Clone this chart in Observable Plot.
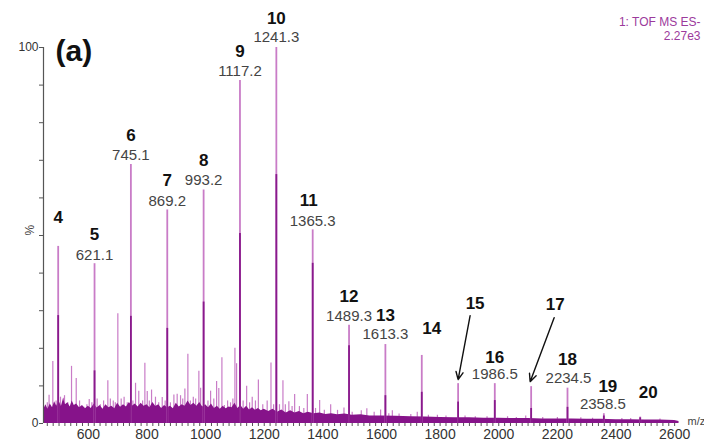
<!DOCTYPE html>
<html><head><meta charset="utf-8">
<script src="https://cdn.jsdelivr.net/npm/d3@7"></script>
<script src="https://cdn.jsdelivr.net/npm/@observablehq/plot@0.6"></script>
<style>
html,body{margin:0;padding:0;background:#fff;}
#chart{width:704px;height:443px;}
</style></head><body><div id="chart"></div>
<script>
// ---- data ----
const peakNumbers = ["4","5","6","7","8","9","10","11","12","13","14","15","16","17","18","19","20"];
const peakMz      = [497.1,621.1,745.1,869.2,993.2,1117.2,1241.3,1365.3,1489.3,1613.3,1737.4,1861.4,1986.5,2110.5,2234.5,2358.5,2482.5];
const peakMzText  = ["","621.1","745.1","869.2","993.2","1117.2","1241.3","1365.3","1489.3","1613.3","","","1986.5","","2234.5","2358.5",""];
const peakPct     = [47.1,42.5,68.9,56.8,62.1,91.2,100,51.5,26.1,21.0,18.1,10.6,10.6,9.8,9.4,2.6,1.7];
const peakDarkPct = [28.7,14.0,28.5,25.3,32.3,50.5,66.2,42.6,20.7,7.4,8.3,5.7,6.1,4.0,4.3,2.0,1.5];

const minorMz  = [460,466,478.8,490,505,515,518.7,530,542.6,558.6,570,584.6,595,603,612,630,641,652,666.5,675,685,692,700.6,712,722,732.7,752,761,772,785,792.8,800.9,808,815.6,829,840,852,862,880,891.8,903,914.5,922,929.3,939.5,948,958,966,977,983,1008,1017,1028,1037.5,1045,1055.6,1064,1075,1085,1093,1100,1105.7,1128,1140,1150,1159,1170,1180,1195,1210,1223,1232,1252,1263.8,1272,1284,1295,1303.7,1320,1335,1347,1375,1389,1405,1426.6,1450,1472,1500,1531,1550,1575,1597,1625,1637,1660,1700,1722,1760,1790.7,1820,1885,1920,1960,2030,2060,2092,2150,2200,2280,2320,2420,2450,2550];
const minorPct = [5.5,7.5,16.5,6.0,7.0,6.7,7.4,5.5,15.2,12.0,6.0,4.3,5.0,6.4,5.5,6.5,5.0,6.0,11.4,6.5,6.0,5.5,29.2,6.5,7.0,5.5,6.0,10.7,8.6,6.0,16.0,8.5,6.0,8.9,7.0,5.5,6.9,6.0,5.5,7.6,7.8,7.4,6.5,9.2,18.4,6.0,7.0,6.5,13.9,9.4,6.0,8.6,6.5,11.2,9.3,17.5,4.8,6.0,5.5,6.5,20.0,15.9,6.0,9.9,5.5,7.0,6.0,11.6,5.0,6.0,16.1,5.0,5.0,11.4,5.0,5.8,4.5,7.7,4.5,4.0,7.7,4.0,6.1,3.5,5.0,3.5,4.1,3.0,3.4,3.9,3.0,3.6,2.6,3.4,2.5,2.4,3.0,2.2,2.2,2.0,2.0,1.8,1.8,1.8,1.6,2.0,1.6,1.6,1.5,1.4,1.3,1.3,1.2];

const baselineMz  = [447,455,462,470,478,485,492,500,508,515,522,530,538,545,552,560,570,580,590,600,610,620,630,640,650,660,670,680,690,700,710,720,730,740,750,760,770,780,790,800,810,820,830,840,850,860,870,880,890,900,910,920,930,940,950,960,970,980,990,1000,1010,1020,1030,1040,1050,1060,1070,1080,1090,1100,1110,1120,1130,1140,1150,1160,1170,1180,1190,1200,1215,1230,1245,1260,1275,1290,1305,1320,1335,1350,1370,1390,1410,1430,1450,1475,1500,1530,1560,1600,1650,1700,1750,1800,1850,1900,1950,2000,2050,2100,2150,2200,2250,2300,2350,2400,2450,2500,2550,2600,2615];
const baselinePct = [3.5,5.0,3.8,5.2,4.2,5.8,4.6,6.0,4.5,6.5,5.0,5.5,4.4,6.0,4.8,5.2,4.2,4.8,3.9,4.6,4.0,5.2,4.1,4.8,3.8,5.0,4.2,4.6,3.9,5.4,4.3,5.0,4.4,5.6,4.6,5.2,4.4,5.4,4.6,5.0,4.2,5.6,4.5,5.0,4.0,4.8,4.2,4.6,3.9,5.4,4.4,5.0,4.6,6.0,4.8,5.4,4.6,5.6,4.4,5.0,4.2,5.2,4.0,4.6,3.8,4.6,3.9,4.4,4.2,5.4,4.0,4.8,3.8,4.6,3.6,4.2,3.5,4.0,3.4,3.8,3.2,3.8,3.0,3.6,2.8,3.4,2.8,3.2,2.6,3.0,2.6,2.8,2.4,2.6,2.3,2.5,2.2,2.3,2.0,2.0,1.9,1.8,1.7,1.6,1.5,1.5,1.4,1.4,1.3,1.3,1.2,1.2,1.2,1.1,1.1,1.0,1.0,0.9,0.9,0.8,0.5];

const xTickValues = [600,800,1000,1200,1400,1600,1800,2000,2200,2400,2600];
const yTickValues = [0,100];

// ---- layout ----
const W = 704, H = 443, ML = 43, MR = 24, MT = 47, MB = 20;
const XD = [447, 2620], YD = [0, 100];
const pxPerMz = (W - ML - MR) / (XD[1] - XD[0]);
const pxPerPct = (H - MT - MB) / (YD[1] - YD[0]);

const peaks = peakNumbers.map((n, i) => ({n, mz: peakMz[i], pct: peakPct[i], dark: peakDarkPct[i], t: peakMzText[i]}));
const minors = minorMz.map((m, i) => ({mz: m, pct: minorPct[i]}));
const base = baselineMz.map((m, i) => ({mz: m, pct: baselinePct[i]}));

// pixel offsets of the labels (dx, dy) relative to the peak top
const numShift = {"11":[-4,-29],"14":[10,-27],"15":[17,-80],"16":[0,-26],"17":[24,-82],"19":[4,-27],"20":[8,-25]};
const massShift = {"19":[-1,-10],"13":[0,-10],"18":[1,-10],"10":[0,-10],"8":[0,-10]};
const off = (d, dx, dy) => ({x: d.mz + dx / pxPerMz, y: d.pct - dy / pxPerPct});

const numLabels = peaks.map(d => {const s = numShift[d.n] || [0,-29]; const p = off(d, s[0], s[1]); return {...p, t: d.n};});
const massLabels = peaks.filter(d => d.t).map(d => {const s = massShift[d.n] || [0,-9]; const p = off(d, s[0], s[1]); return {...p, t: d.t};});
const arrowPeaks = {"15":[[12,-68],[0,-4]], "17":[[23,-69],[-1,-5]]};
const arrows = peaks.filter(d => arrowPeaks[d.n]).map(d => {
  const [a, b] = arrowPeaks[d.n]; const p1 = off(d, a[0], a[1]), p2 = off(d, b[0], b[1]);
  return {x1: p1.x, y1: p1.y, x2: p2.x, y2: p2.y};
});

const LIGHT = "#c97cc7", DARK = "#891a8c", BAND = "#86138a";

const chart = Plot.plot({
  width: W, height: H, marginLeft: ML, marginRight: MR, marginTop: MT, marginBottom: MB,
  x: {domain: XD}, y: {domain: YD},
  style: {fontFamily: "'Liberation Sans', Arial, sans-serif", background: "white", color: "#333"},
  marks: [
    Plot.ruleX(minors, {x: "mz", y1: 0, y2: "pct", stroke: LIGHT, strokeWidth: 1.2}),
    Plot.areaY(base, {x: "mz", y: "pct", fill: BAND, curve: "linear"}),
    Plot.ruleX(peaks, {x: "mz", y1: 0, y2: "pct", stroke: LIGHT, strokeWidth: 1.8}),
    Plot.ruleX(peaks, {x: "mz", y1: 0, y2: "dark", stroke: DARK, strokeWidth: 1.8}),
    Plot.ruleX([XD[0]], {y1: 0, y2: 100, stroke: "#555", strokeWidth: 1.2}),
    Plot.axisY({ticks: d3.range(0, 101, 10), tickFormat: d => yTickValues.includes(d) ? String(d) : "", tickSize: 4, tickPadding: 1, fontSize: 12, label: null, stroke: "#555"}),
    Plot.axisX({ticks: d3.range(460, 2620, 20), tickFormat: d => xTickValues.includes(d) ? String(d) : "", tickSize: 3, tickPadding: 3, fontSize: 14, label: null, stroke: "#555"}),
    Plot.text(["%"], {frameAnchor: "left", dx: -13, rotate: -90, fontSize: 12, fill: "#444"}),
    Plot.text(["m/z"], {frameAnchor: "bottom-right", textAnchor: "start", dx: 7, dy: 1, fontSize: 11, fill: "#444"}),
    Plot.text(massLabels, {x: "x", y: "y", text: "t", fontSize: 15, fill: "#444"}),
    Plot.text(numLabels, {x: "x", y: "y", text: "t", fontSize: 17, fontWeight: "bold", fill: "#111"}),
    Plot.arrow(arrows, {x1: "x1", y1: "y1", x2: "x2", y2: "y2", stroke: "#111", strokeWidth: 1.4, headLength: 9, headAngle: 50}),
    Plot.text(["(a)"], {frameAnchor: "top-left", textAnchor: "start", dx: 12, dy: -8, fontSize: 30, fontWeight: "bold", fill: "#111"}),
    Plot.text(["1: TOF MS ES-"], {frameAnchor: "top-right", textAnchor: "end", dx: 20, dy: -30, fontSize: 12, fill: "#9c3a9c"}),
    Plot.text(["2.27e3"], {frameAnchor: "top-right", textAnchor: "end", dx: 20, dy: -16, fontSize: 12, fill: "#9c3a9c"})
  ]
});
document.getElementById("chart").append(chart);
</script></body></html>
